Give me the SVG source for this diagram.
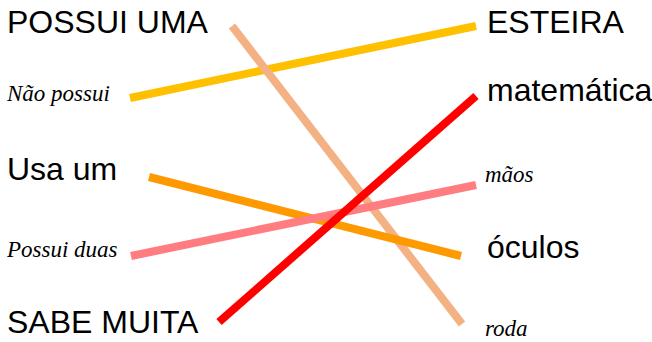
<svg xmlns="http://www.w3.org/2000/svg" width="652" height="342" viewBox="0 0 652 342">
<style>
.s{font-family:"Liberation Sans",Arial,sans-serif;font-size:32px;fill:#000}
.c{font-family:"Liberation Serif","Times New Roman",serif;font-style:italic;font-size:23px;fill:#000}
.l{fill:none;stroke-width:8}
</style>
<rect width="652" height="342" fill="#fff"/>
<g id="connectors">
<line class="l" x1="130" y1="98" x2="476" y2="26" stroke="#ffc000"/>
<line class="l" x1="232" y1="26" x2="462" y2="324" stroke="#f4b183"/>
<line class="l" x1="149" y1="177" x2="461" y2="256" stroke="#ff9900"/>
<line class="l" x1="131" y1="256" x2="476" y2="185" stroke="#ff7c80"/>
<line class="l" x1="219" y1="322" x2="476" y2="96" stroke="#ff0000"/>
</g>
<g id="n1"><text class="s" x="7" y="33">POSSUI UMA</text></g>
<g id="n2"><text class="c" x="7" y="101">Não possui</text></g>
<g id="n3"><text class="s" x="7" y="180">Usa um</text></g>
<g id="n4"><text class="c" x="7" y="257">Possui duas</text></g>
<g id="n5"><text class="s" x="7" y="333">SABE MUITA</text></g>
<g id="n6"><text class="s" x="487" y="33">ESTEIRA</text></g>
<g id="n7"><text class="s" x="487" y="101">matemática</text></g>
<g id="n8"><text class="c" x="485" y="182">mãos</text></g>
<g id="n9"><text class="s" x="487" y="258">óculos</text></g>
<g id="n10"><text class="c" x="485" y="336">roda</text></g>
</svg>
